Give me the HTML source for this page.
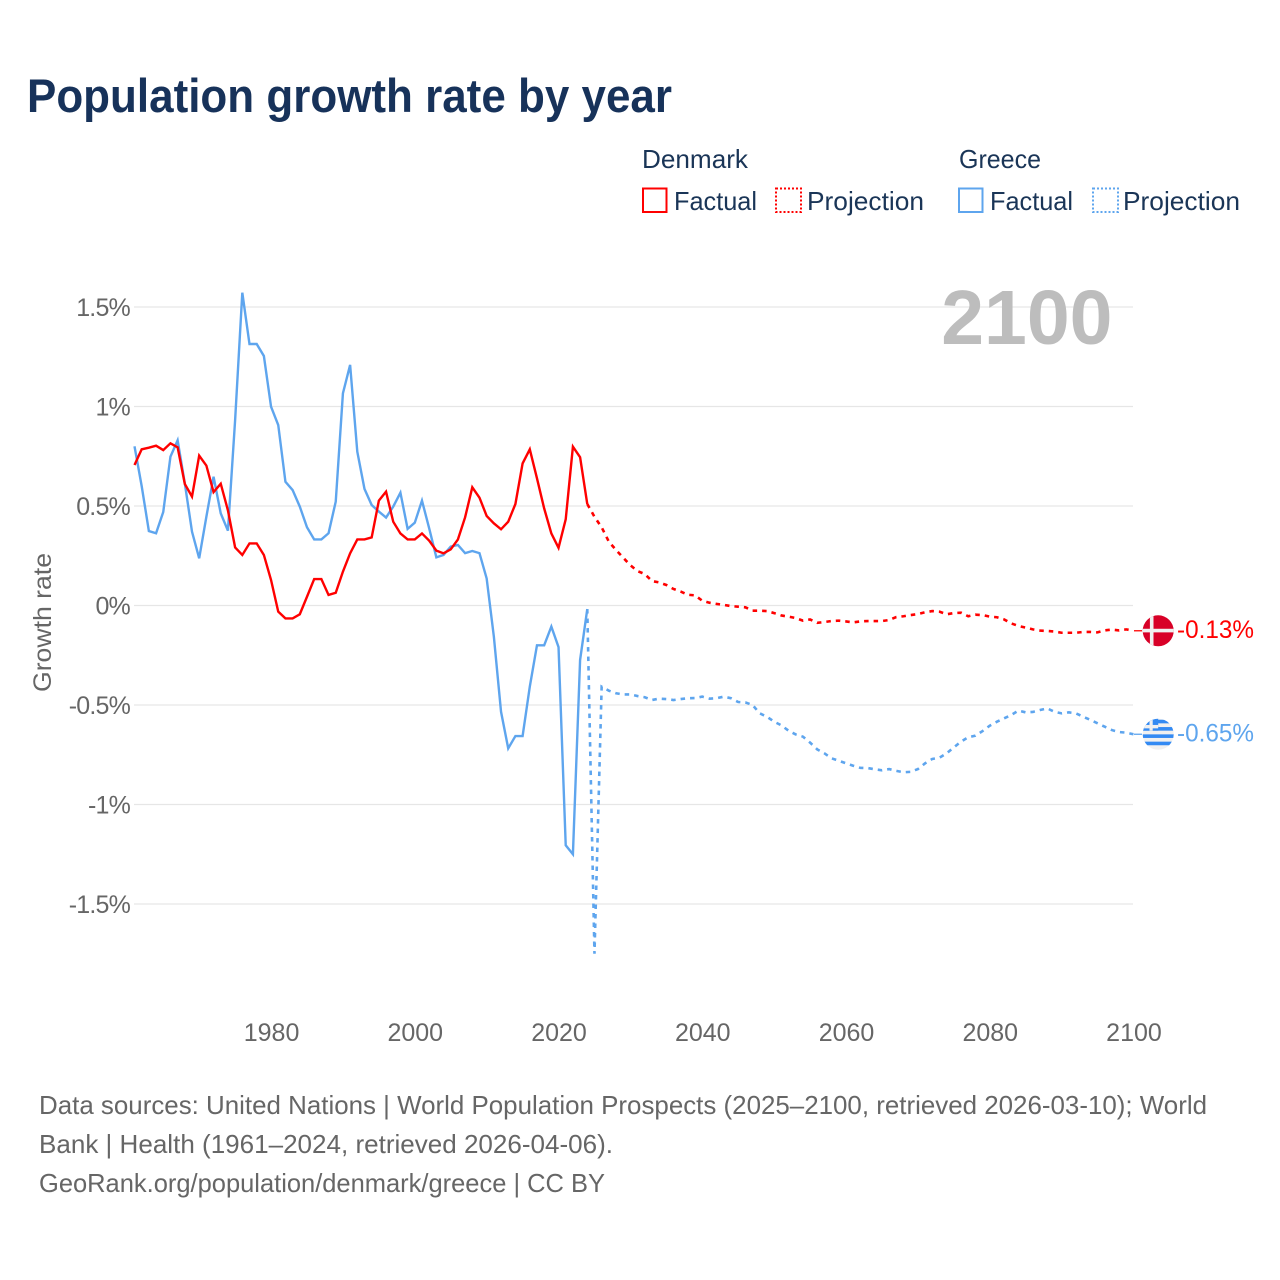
<!DOCTYPE html>
<html lang="en">
<head>
<meta charset="utf-8">
<title>Population growth rate by year</title>
<style>
html,body{margin:0;padding:0;background:#fff;}
svg{display:block;font-family:"Liberation Sans",Arial,sans-serif;}
.gray{fill:#666;}
.navy{fill:#1a3557;}
</style>
</head>
<body>
<svg id="chart" xmlns="http://www.w3.org/2000/svg" width="1280" height="1280" viewBox="0 0 1280 1280">
  <text x="27" y="112" font-size="47" font-weight="700" fill="#17325a" textLength="645" lengthAdjust="spacingAndGlyphs">Population growth rate by year</text>

  <g font-size="26">
    <text class="navy" x="642" y="168" textLength="106" lengthAdjust="spacingAndGlyphs">Denmark</text>
    <text class="navy" x="959" y="168" textLength="82" lengthAdjust="spacingAndGlyphs">Greece</text>
    <g>
      <rect x="643" y="188.500" width="23.500" height="23.500" fill="none" stroke="#ff0000" stroke-width="2"/>
      <text class="navy" x="674" y="210" textLength="83" lengthAdjust="spacingAndGlyphs">Factual</text>
    </g>
    <g>
      <rect x="776" y="188.500" width="25" height="23.500" fill="none" stroke="#ff0000" stroke-width="2" stroke-dasharray="2 2"/>
      <text class="navy" x="807" y="210" textLength="117" lengthAdjust="spacingAndGlyphs">Projection</text>
    </g>
    <g>
      <rect x="959" y="188.500" width="23.500" height="23.500" fill="none" stroke="#5ea5ee" stroke-width="2"/>
      <text class="navy" x="990" y="210" textLength="83" lengthAdjust="spacingAndGlyphs">Factual</text>
    </g>
    <g>
      <rect x="1093" y="188.500" width="25" height="23.500" fill="none" stroke="#5ea5ee" stroke-width="2" stroke-dasharray="2 2"/>
      <text class="navy" x="1123" y="210" textLength="117" lengthAdjust="spacingAndGlyphs">Projection</text>
    </g>
  </g>

  <g id="grid"></g>
  <text x="1112.500" y="344" text-anchor="end" font-size="77" font-weight="700" fill="#bdbdbd">2100</text>
  <g id="yticks"></g>
  <g id="xticks"></g>
  <text class="gray" transform="translate(51,692) rotate(-90)" font-size="25" textLength="139" lengthAdjust="spacingAndGlyphs">Growth rate</text>
  <g id="series"></g>

  <defs>
    <clipPath id="flag-clip"><circle cx="0" cy="0" r="15.500"/></clipPath>
  </defs>
  <g id="ends"></g>

  <g font-size="26" class="gray">
    <text class="gray" x="39" y="1114" textLength="1168" lengthAdjust="spacingAndGlyphs">Data sources: United Nations | World Population Prospects (2025–2100, retrieved 2026-03-10); World</text>
    <text class="gray" x="39" y="1153" textLength="574" lengthAdjust="spacingAndGlyphs">Bank | Health (1961–2024, retrieved 2026-04-06).</text>
    <text class="gray" x="39" y="1192" textLength="566" lengthAdjust="spacingAndGlyphs">GeoRank.org/population/denmark/greece | CC BY</text>
  </g>
</svg>

<script>
const xTickYears = [1980, 2000, 2020, 2040, 2060, 2080, 2100];
const yTickValues = [1.5, 1, 0.5, 0, -0.5, -1, -1.5];
const yTickLabels = ["1.5%", "1%", "0.5%", "0%", "-0.5%", "-1%", "-1.5%"];

const factualYears = [1961,1962,1963,1964,1965,1966,1967,1968,1969,1970,1971,1972,1973,1974,1975,1976,1977,1978,1979,1980,1981,1982,1983,1984,1985,1986,1987,1988,1989,1990,1991,1992,1993,1994,1995,1996,1997,1998,1999,2000,2001,2002,2003,2004,2005,2006,2007,2008,2009,2010,2011,2012,2013,2014,2015,2016,2017,2018,2019,2020,2021,2022,2023,2024];
const denmarkFactual = [0.706,0.785,0.793,0.803,0.781,0.815,0.795,0.611,0.547,0.753,0.703,0.57,0.612,0.478,0.292,0.254,0.312,0.312,0.254,0.128,-0.031,-0.065,-0.065,-0.044,0.044,0.133,0.133,0.053,0.064,0.17,0.262,0.332,0.332,0.342,0.527,0.572,0.421,0.362,0.332,0.332,0.362,0.326,0.276,0.262,0.282,0.332,0.443,0.594,0.542,0.45,0.413,0.383,0.421,0.51,0.714,0.785,0.639,0.488,0.362,0.29,0.433,0.798,0.745,0.51];
const greeceFactual = [0.80,0.60,0.374,0.363,0.47,0.748,0.83,0.614,0.371,0.237,0.446,0.647,0.463,0.376,0.932,1.572,1.314,1.314,1.254,0.999,0.907,0.622,0.58,0.497,0.393,0.332,0.332,0.363,0.522,1.066,1.209,0.773,0.586,0.505,0.472,0.442,0.497,0.567,0.385,0.416,0.527,0.388,0.242,0.254,0.296,0.304,0.263,0.274,0.263,0.136,-0.156,-0.534,-0.718,-0.656,-0.656,-0.408,-0.2,-0.2,-0.106,-0.209,-1.205,-1.25,-0.274,-0.018];

const projectionYears = [2024,2025,2026,2027,2028,2029,2030,2031,2032,2033,2034,2035,2036,2037,2038,2039,2040,2041,2042,2043,2044,2045,2046,2047,2048,2049,2050,2051,2052,2053,2054,2055,2056,2057,2058,2059,2060,2061,2062,2063,2064,2065,2066,2067,2068,2069,2070,2071,2072,2073,2074,2075,2076,2077,2078,2079,2080,2081,2082,2083,2084,2085,2086,2087,2088,2089,2090,2091,2092,2093,2094,2095,2096,2097,2098,2099,2100];
const denmarkProjection = [0.51,0.446,0.393,0.321,0.279,0.24,0.202,0.173,0.158,0.123,0.116,0.103,0.083,0.07,0.054,0.051,0.024,0.014,0.008,0.003,-0.003,-0.006,-0.009,-0.026,-0.026,-0.028,-0.038,-0.05,-0.056,-0.063,-0.076,-0.07,-0.087,-0.083,-0.078,-0.076,-0.08,-0.085,-0.08,-0.078,-0.078,-0.078,-0.073,-0.058,-0.054,-0.048,-0.043,-0.034,-0.028,-0.031,-0.044,-0.038,-0.036,-0.054,-0.046,-0.048,-0.056,-0.059,-0.07,-0.09,-0.103,-0.111,-0.12,-0.126,-0.128,-0.131,-0.137,-0.137,-0.137,-0.133,-0.133,-0.135,-0.125,-0.121,-0.125,-0.12,-0.127];
const greeceProjection = [-0.018,-1.75,-0.408,-0.428,-0.441,-0.447,-0.447,-0.455,-0.461,-0.475,-0.468,-0.47,-0.475,-0.47,-0.466,-0.465,-0.458,-0.468,-0.466,-0.458,-0.466,-0.485,-0.487,-0.5,-0.542,-0.559,-0.584,-0.602,-0.629,-0.648,-0.659,-0.689,-0.723,-0.743,-0.768,-0.78,-0.793,-0.805,-0.816,-0.817,-0.823,-0.828,-0.822,-0.831,-0.838,-0.836,-0.822,-0.793,-0.771,-0.765,-0.743,-0.713,-0.684,-0.662,-0.654,-0.631,-0.604,-0.584,-0.567,-0.55,-0.528,-0.537,-0.535,-0.525,-0.517,-0.534,-0.542,-0.537,-0.542,-0.559,-0.575,-0.592,-0.609,-0.626,-0.636,-0.639,-0.647];

const endLabels = ["-0.13%", "-0.65%"];

const NS = "http://www.w3.org/2000/svg";
const RED = "#ff0000";
const BLUE = "#5ea5ee";

function xScale(year) { return 134.5 + (year - 1961) * 7.187; }
function yScale(value) { return 605.5 - value * 199; }

function mk(tag, attrs, parent) {
  const el = document.createElementNS(NS, tag);
  for (const k in attrs) el.setAttribute(k, attrs[k]);
  parent.appendChild(el);
  return el;
}
function pathFrom(years, values) {
  return years.map(function (y, i) {
    return (i ? "L" : "M") + xScale(y).toFixed(2) + " " + yScale(values[i]).toFixed(2);
  }).join(" ");
}

const gridG = document.getElementById("grid");
const yG = document.getElementById("yticks");
yTickValues.forEach(function (v, i) {
  const line = mk("line", { x1: 134, x2: 1133, y1: yScale(v), y2: yScale(v), stroke: "#e6e6e6", "stroke-width": 1.3 }, gridG);
  
  
  const t = mk("text", { x: 130, y: yScale(v) + 9, "text-anchor": "end", "font-size": 25, "letter-spacing": -0.8, fill: "#666" }, yG);
  t.textContent = yTickLabels[i];
  
  
});

const xG = document.getElementById("xticks");
xTickYears.forEach(function (year) {
  const t = mk("text", { x: xScale(year) + 0.5, y: 1041, "text-anchor": "middle", "font-size": 25, fill: "#666" }, xG);
  t.textContent = String(year);
  
  
});

const seriesG = document.getElementById("series");

const greeceFactualLine = mk("path", { d: pathFrom(factualYears, greeceFactual), fill: "none", stroke: BLUE, "stroke-width": 2.4, "stroke-linejoin": "miter" }, seriesG);



const denmarkFactualLine = mk("path", { d: pathFrom(factualYears, denmarkFactual), fill: "none", stroke: RED, "stroke-width": 2.4, "stroke-linejoin": "miter" }, seriesG);



const greeceProjectionLine = mk("path", { d: pathFrom(projectionYears, greeceProjection), fill: "none", stroke: BLUE, "stroke-width": 2.6, "stroke-dasharray": "4.500 5" }, seriesG);



const denmarkProjectionLine = mk("path", { d: pathFrom(projectionYears, denmarkProjection), fill: "none", stroke: RED, "stroke-width": 2.6, "stroke-dasharray": "4.500 5" }, seriesG);



const endsG = document.getElementById("ends");
const FLAG_X = 1158.2;

function addEnd(values, color, label) {
  const yEnd = yScale(values[values.length - 1]);
  const stub = mk("line", { x1: 1134, x2: 1142, y1: yEnd, y2: yEnd, stroke: color, "stroke-width": 1.3 }, endsG);
  
  
  const t = mk("text", { x: 1177, y: yEnd + 7, "font-size": 25, fill: color, textLength: 77, lengthAdjust: "spacingAndGlyphs" }, endsG);
  t.textContent = label;
  
  
  const g = mk("g", { transform: "translate(" + FLAG_X + "," + yEnd + ")", "clip-path": "url(#flag-clip)" }, endsG);
  return g;
}

const dkFlag = addEnd(denmarkProjection, RED, endLabels[0]);


mk("rect", { x: -16, y: -16, width: 32, height: 32, fill: "#d80027" }, dkFlag);
mk("rect", { x: -8.3, y: -16, width: 3.6, height: 32, fill: "#f0f0f0" }, dkFlag);
mk("rect", { x: -16, y: -2, width: 32, height: 3.6, fill: "#f0f0f0" }, dkFlag);

const grFlag = addEnd(greeceProjection, BLUE, endLabels[1]);


mk("rect", { x: -16, y: -16, width: 32, height: 32, fill: "#f0f0f0" }, grFlag);
[-14.5, -7.2, 0.1, 7.4].forEach(function (sy) {
  mk("rect", { x: -16, y: sy, width: 32, height: 3.6, fill: "#338af3" }, grFlag);
});
mk("rect", { x: -16, y: -16, width: 16, height: 12.4, fill: "#338af3" }, grFlag);
mk("rect", { x: -8.7, y: -16, width: 3.2, height: 12.4, fill: "#f0f0f0" }, grFlag);
mk("rect", { x: -16, y: -9.3, width: 16, height: 3.4, fill: "#f0f0f0" }, grFlag);
</script>
</body>
</html>
